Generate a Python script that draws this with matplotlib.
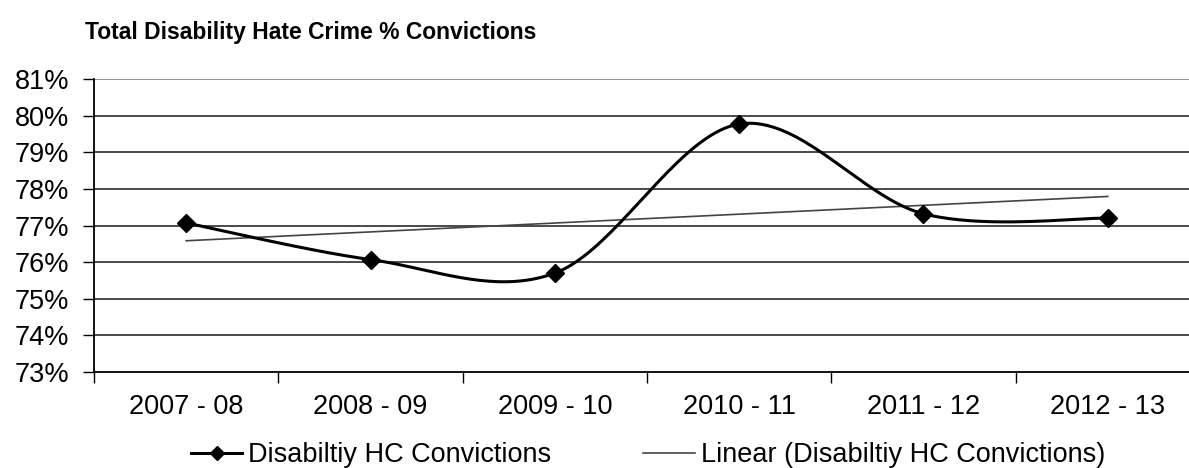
import numpy as np
import matplotlib
matplotlib.use("Agg")
import matplotlib.pyplot as plt
from matplotlib.ticker import FuncFormatter, FixedLocator
from matplotlib.lines import Line2D

# Data
years = ["2007 - 08", "2008 - 09", "2009 - 10", "2010 - 11", "2011 - 12", "2012 - 13"]
conviction_rate = [77.07, 76.07, 75.70, 79.77, 77.32, 77.20]

series_label = "Disabiltiy HC Convictions"
trend_label = "Linear (Disabiltiy HC Convictions)"
title = "Total Disability Hate Crime % Convictions"

plt.rcParams["font.family"] = ["Liberation Sans", "DejaVu Sans"]


def smooth_curve(x, y, steps=40):
    """Cubic Bezier spline through the points (Catmull-Rom style control points)."""
    x = np.asarray(x, float)
    y = np.asarray(y, float)
    n = len(x)
    px = np.concatenate([[x[0]], x, [x[-1]]])
    py = np.concatenate([[y[0]], y, [y[-1]]])
    out_x, out_y = [], []
    t = np.linspace(0, 1, steps)
    for i in range(n - 1):
        p0 = np.array([px[i + 1], py[i + 1]])
        p3 = np.array([px[i + 2], py[i + 2]])
        c1 = p0 + (np.array([px[i + 2], py[i + 2]]) - np.array([px[i], py[i]])) / 6
        c2 = p3 - (np.array([px[i + 3], py[i + 3]]) - np.array([px[i + 1], py[i + 1]])) / 6
        b = ((1 - t) ** 3)[:, None] * p0 + (3 * (1 - t) ** 2 * t)[:, None] * c1 \
            + (3 * (1 - t) * t ** 2)[:, None] * c2 + (t ** 3)[:, None] * p3
        out_x.extend(b[:, 0])
        out_y.extend(b[:, 1])
    return np.array(out_x), np.array(out_y)


W, H = 1189, 468
fig = plt.figure(figsize=(W / 100, H / 100), dpi=100)
left, right, top, bottom = 94, 1200, 79, 372
ax = fig.add_axes([left / W, 1 - bottom / H, (right - left) / W, (bottom - top) / H])

xpos = np.arange(len(years))

# Gridlines
for v in range(74, 82):
    ax.axhline(v, color="#3c3c3c" if v < 81 else "#8a8a8a", lw=1.3, zorder=1)

# Linear trend line
coef = np.polyfit(xpos + 1, conviction_rate, 1)
trend = np.polyval(coef, xpos + 1)
ax.plot(xpos, trend, color="#444444", lw=1.2, zorder=2)

# Smoothed series with diamond markers
sx, sy = smooth_curve(xpos, conviction_rate)
ax.plot(sx, sy, color="black", lw=2.2, zorder=3)
ax.plot(xpos, conviction_rate, linestyle="none", marker="D", ms=9,
        color="black", zorder=4)

ax.set_xlim(-0.5, len(years) - 0.5)
ax.set_ylim(73, 81)

ax.set_yticks(range(73, 82))
ax.yaxis.set_major_formatter(FuncFormatter(lambda v, p: f"{int(v)}%"))
ax.tick_params(axis="y", length=8, width=1, color="black", labelsize=19.5, pad=10)

ax.set_xticks(xpos)
ax.set_xticklabels(years)
ax.xaxis.set_minor_locator(FixedLocator(np.arange(-0.5, len(years), 1.0)))
ax.tick_params(axis="x", which="major", length=0, labelsize=19.5, pad=16)
ax.tick_params(axis="x", which="minor", length=8, width=1, color="black")

for s in ["top", "right"]:
    ax.spines[s].set_visible(False)
ax.spines["left"].set_linewidth(1.3)
ax.spines["bottom"].set_linewidth(1.3)

fig.text(85 / W, 1 - 33 / H, title, fontsize=16.5, fontweight="bold",
         ha="left", va="center")

# Legend
handles = [
    Line2D([], [], color="black", lw=2.2, marker="D", ms=7),
    Line2D([], [], color="#444444", lw=1.2),
]
fig.legend(handles, [series_label, trend_label], loc="center",
           bbox_to_anchor=(0.545, 1 - 455 / H), ncol=2, frameon=False,
           fontsize=19.5, handlelength=1.9, handletextpad=0.22, columnspacing=3.4,
           borderpad=0, borderaxespad=0)

fig.savefig("out.png", dpi=100)
